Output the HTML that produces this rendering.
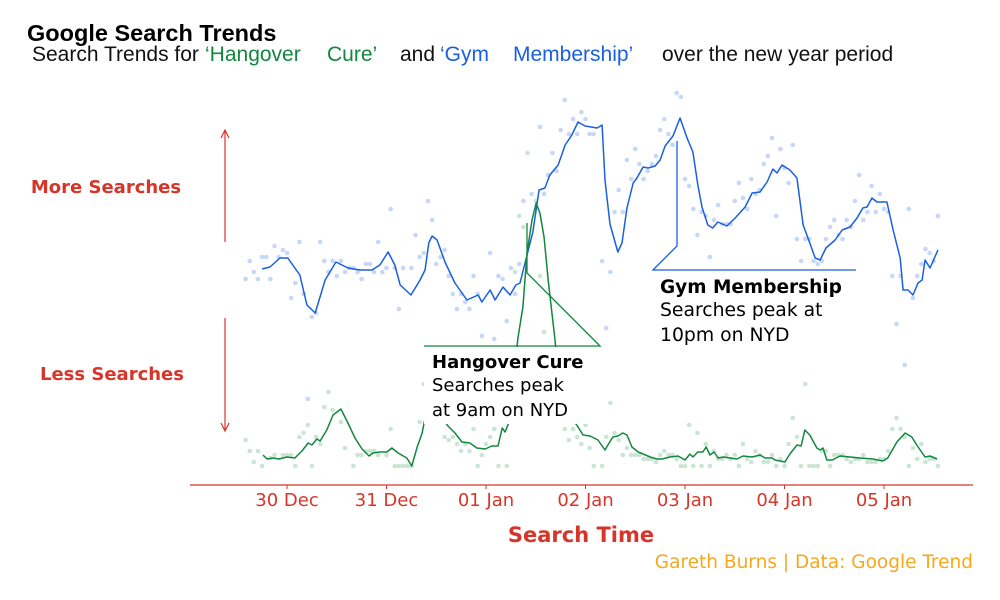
<!DOCTYPE html>
<html><head><meta charset="utf-8">
<style>
body{margin:0;background:#fff;}
#wrap{position:relative;width:1000px;height:600px;overflow:hidden;font-family:"Liberation Sans",sans-serif;}
.t{position:absolute;white-space:nowrap;}
svg text{font-family:"DejaVu Sans","Liberation Sans",sans-serif;}
</style></head>
<body>
<div id="wrap">
<div class="t" style="left:27px;top:20px;font-size:23.5px;font-weight:bold;color:#000;">Google Search Trends</div>
<div style="position:absolute;left:0;top:0;font-size:21px;">
<span class="t" style="left:32px;top:43px;color:#111;">Search Trends for</span>
<span class="t" style="left:205px;top:43px;color:#12873e;">‘Hangover</span>
<span class="t" style="left:327px;top:43px;color:#12873e;">Cure’</span>
<span class="t" style="left:400px;top:43px;color:#111;">and</span>
<span class="t" style="left:440px;top:43px;color:#1a5fe0;">‘Gym</span>
<span class="t" style="left:513px;top:43px;color:#1a5fe0;">Membership’</span>
<span class="t" style="left:662px;top:43px;color:#111;">over the new year period</span>
</div>
<svg id="chart" width="1000" height="600" style="position:absolute;left:0;top:0">
<g id="gDots"></g><g id="gLines"></g>
<g id="gAnno"></g>
<g id="gAxis"></g>
</svg>
</div>
<script>
const blueLineHours=[-6,-4.1,-1.7,0.2,1.9,3.1,4.8,6.8,9.2,11.8,14.7,17.6,20.5,22.4,24.4,26,27.3,29.9,32.1,33.3,34.2,35,36.2,38.1,40.5,43.4,46.1,47,49,50.2,52.1,53.8,55.2,56.2,57.9,59.3,60.8,62.2,63.4,65.4,67.1,68.7,70.2,71.9,74.8,76,76.7,77.9,79.8,80.8,82,83.5,84.4,85.9,87.1,88.8,90,91.2,93.1,94.8,96.5,97.9,99.1,100.1,101.5,102.7,103.9,106.1,108.1,110.5,112.2,114.1,115.8,117.2,118.2,119.4,121.3,123,124.5,126.1,127.4,128.6,130,132.2,133.9,135.8,137.5,138.9,139.9,141.1,142.3,144.7,146.2,147.9,148.6,149.8,151,152.2,153.2,153.9,155.1,157];
const blueLineValues=[54,54.5,56.75,56.75,54.25,52.5,45,43,51.25,55.75,54.25,53.75,53.75,55,58.25,55,50,47.5,51.25,53.75,60.5,62.25,61.25,55.75,50.5,46.25,47.5,45.75,48.75,46.25,49.5,47.5,50,50.5,57.5,63.25,73.75,74.25,77.5,80,85,87.5,90.75,89.75,89.25,90,76.25,65.25,58.25,60.5,69.25,75.5,76.75,79.5,79.25,79.75,81.25,84.75,87.25,91.75,86.75,83.25,75,69.5,65,64.25,65.75,64.75,66.75,69.5,73,73.25,75.75,79,78,80,78.75,76.75,65,60.5,56.75,56.25,59.25,61.25,63.75,64.5,66.75,69.25,69.5,71.75,70.75,70.75,63.75,56.75,48.75,48.75,47.5,50.5,51.25,56.25,54.25,58.75];
const blueDotHours=[-10,-9,-8,-7,-6,-5,-4,-3,-2,-1,0,1,2,3,4,5,6,7,8,9,10,11,12,13,14,15,16,17,18,19,20,21,22,23,24,25,26,27,28,30,31,32,33,34,35,36,37,38,39,40,41,42,43,44,45,46,47,49,50,51,52,53,54,55,56,57,59,61,62,63,64,65,66,67,68,69,70,71,72,73,74,76,77,78,79,80,81,82,83,84,85,86,87,88,89,90,91,92,93,94,95,96,97,98,99,100,101,102,103,104,105,106,107,108,109,110,111,112,113,114,115,116,117,118,119,120,121,122,123,124,125,126,127,128,129,130,131,132,133,134,135,136,137,138,139,140,141,142,143,144,145,146,147,148,149,150,151,152,153,154,155,156,157];
const blueDotValues=[51.5,56,53.25,51.5,57,57,51.5,59.75,57,58.75,58,46.75,50.5,60.75,47.75,21.5,42,43,60.75,56,53.25,56,52.25,56,53.25,54.25,54.25,53.25,51.5,55.25,55.25,53.25,60.75,53.25,54.25,69,54.25,44,54.25,54.25,62.5,57,58,71,66.25,55.25,57,58.75,52.25,47.75,44,47.75,45.75,44,52.25,47.75,37.25,58,36.5,52.25,51.5,41,54.25,47.75,55.25,71,72.75,89.5,72.75,77.5,83,78.5,88.75,96.25,87.75,91.5,87.75,93.25,91.5,87.75,87.75,56,39.25,53.25,68.25,73.75,68.25,81.25,76.5,84,80.25,76.5,78.5,80.25,82.25,88.75,91.5,87.75,85,98,97,76.5,74.75,69,62.5,68.25,67.25,57,66.25,70,65.25,65.25,65.25,71,75.5,71.75,69,76.5,72.75,73.75,80.25,82.25,86.75,67.25,84,79.25,75.5,85,61.5,56,61.5,61.5,56,55.25,56,61.5,64.5,66.25,62.5,61.5,66.25,64.5,71,77.5,66.25,68.25,74.75,68.25,72.75,69,68.25,52.25,40.25,52.25,30,69,46.75,52.25,55.25,59,58,56,67.25];
const greenLineHours=[-5.8,-4.8,-3.4,-1.9,0,1.9,3.6,5.1,6,7.2,8,9.6,11.1,13,14.7,16.4,18.1,19.8,20.7,22.4,24.1,25.3,26.8,28.9,30.1,31.4,32.6,33.1,34.7,36.9,38.6,40.5,42.2,44.1,45.8,47.8,49.4,50.9,51.9,52.6,53.3,54.5,55.7,56.9,57.9,59.1,60.1,61,62,63,63.9,64.6,65.8,67.8,69.9,71.4,73.1,75,76.7,77.4,78.6,79.8,81,82,83.2,84.7,85.9,87.6,89.2,90.4,92.4,94.3,96,97.2,97.9,99.1,100.3,101.1,102,103,104,105.2,106.9,108.5,110,112.2,114.1,115.3,117,117.7,120.1,121.3,123,124,124.9,126.1,127.8,128.6,129.3,130.2,131.5,133.4,135.8,138.2,141.3,143.7,144.9,147.1,149.1,150.7,151.9,153.9,155.1,156.8];
const greenLineValues=[7.5,6.5,6.75,6.5,7,6.75,8.5,10.5,10,11.5,11,13.75,17.5,19,15.5,11.75,9,7.25,8,8.25,8.25,9.25,8,6.75,4.75,9.5,13,15.75,21,18.75,15,13,10.75,10.5,9.25,9,9.75,9.75,14.25,13.25,15,25,36.75,44.5,58,66.25,70.5,68,62,51.25,43,36.75,23.75,17.5,15,12.5,12.25,11.25,8.75,10,12,12.25,13,12.5,9.5,8.25,7.75,7,6.5,6.5,7,7.25,6.25,7.75,7,8.25,8.25,9.5,7.5,8.25,6.75,7,6.75,6.5,7.25,7,7.5,6.75,6.75,6.25,5.75,7.75,10,9.75,13.75,12.5,9.25,8.75,9.25,6.25,6.25,7.25,7,6.75,6.5,6,6.75,10.75,13,12,10,7,7.25,6.5];
const greenDotHours=[-10,-9,-8,-7,-6,-4,-3,-1,0,1,2,3,4,5,6,7,8,9,10,11,13,14,16,17,18,19,20,21,22,24,25,26,27,28,29,30,32,33,38,39,40,41,42,43,44,45,46,47,48,49,50,51,53,55,56,57,58,60,61,62,67,68,69,70,71,72,73,74,76,77,78,79,80,81,82,83,84,85,86,87,88,89,90,91,92,93,94,95,96,97,98,99,100,101,102,103,104,105,106,107,108,109,110,111,112,113,114,115,116,117,118,119,120,121,122,123,124,125,126,127,128,129,130,131,132,133,134,135,136,137,138,139,140,141,142,143,144,145,146,147,148,149,150,151,152,153,154,155,156,157];
const greenDotValues=[11.25,8.5,5.75,8.5,4.75,6.75,7.5,7.5,7.5,7.5,4.75,12,13,15,4.75,12,10.25,19.5,23.25,18.75,15.75,9.25,4.75,7.5,7.5,8.5,8.5,8.5,7.5,7.5,14,4.75,4.75,4.75,4.75,4.75,15.75,25.25,12,11.25,12,10.25,8.5,10.25,8.5,14,4.75,7.5,10.25,12,14,4.75,4.75,53.25,67.25,64.5,83,71,52.25,38.25,14,11.25,14,12,10.25,15,9.25,4.75,4.75,12,20.5,13,11.25,7.5,9.25,7.5,7.5,7.5,6.5,6.5,6.5,5.75,7.5,8.5,7.5,7.5,6.5,4.75,4.75,15,4.75,13,4.75,10.25,4.75,8.5,6.5,6.5,7.5,6.5,7.5,4.75,10.25,6.5,5.75,8.5,7.5,5.75,5.75,7.5,4.75,6.5,4.75,10.25,16.75,12,4.75,25.25,4.75,4.75,4.75,8.5,8.5,4.75,7.5,7.5,7.5,6.5,5.75,6.5,6.5,7.5,5.75,5.75,5.75,6.5,6.5,8.5,14,16.75,14,12,4.75,9.25,6.5,10.25,5.75,6.5,6.5,4.75];
const tickLabels=["30 Dec","31 Dec","01 Jan","02 Jan","03 Jan","04 Jan","05 Jan"];
const tickHours=[0,24,48,72,96,120,144];

const NS="http://www.w3.org/2000/svg";
const x=h=>287+h*99.5/24;
const y=v=>485-v*4;
const RED="#d8352a",BLUE="#1a5fe0",GREEN="#12873e";
function mk(tag,parent,attrs){const e=document.createElementNS(NS,tag);for(const k in attrs)e.setAttribute(k,attrs[k]);parent.appendChild(e);return e;}
const gD=document.getElementById('gDots'),gL=document.getElementById('gLines'),gA=document.getElementById('gAnno'),gX=document.getElementById('gAxis');

blueDotHours.forEach((h,i)=>{const c=mk('circle',gD,{cx:x(h),cy:y(blueDotValues[i]),r:2.3,fill:BLUE,'fill-opacity':0.25});

});
greenDotHours.forEach((h,i)=>{const c=mk('circle',gD,{cx:x(h),cy:y(greenDotValues[i]),r:2.3,fill:GREEN,'fill-opacity':0.22});

});

const bl=mk('polyline',gL,{points:blueLineHours.map((h,i)=>x(h)+','+y(blueLineValues[i])).join(' '),fill:'none',stroke:BLUE,'stroke-width':1.5,'stroke-linejoin':'round'});


const gl=mk('polyline',gL,{points:greenLineHours.map((h,i)=>x(h)+','+y(greenLineValues[i])).join(' '),fill:'none',stroke:GREEN,'stroke-width':1.5,'stroke-linejoin':'round'});



const hb=mk('rect',gA,{x:424,y:347,width:176,height:77,fill:'#fff'});


const ha=mk('polyline',gA,{points:'527,223 527,273 600,346 424,346',fill:'none',stroke:GREEN,'stroke-width':1.3});


const ga=mk('polyline',gA,{points:'677,141 677,246 653,270 856,270',fill:'none',stroke:BLUE,'stroke-width':1.3});


function txt(parent,str,px,py,attrs,name){const t=mk('text',parent,Object.assign({x:px,y:py},attrs));t.textContent=str;

return t;}
txt(gA,'Hangover Cure',432,368,{'font-size':18,'font-weight':'bold',fill:'#000'},'hangover-annotation-title');
txt(gA,'Searches peak',432,391,{'font-size':18,fill:'#000'},'hangover-annotation-text');
txt(gA,'at 9am on NYD',432,416,{'font-size':18,fill:'#000'},'hangover-annotation-text');
txt(gA,'Gym Membership',660,293,{'font-size':18.5,'font-weight':'bold',fill:'#000'},'gym-annotation-title');
txt(gA,'Searches peak at',660,316,{'font-size':18.8,fill:'#000'},'gym-annotation-text');
txt(gA,'10pm on NYD',660,341,{'font-size':18.8,fill:'#000'},'gym-annotation-text');

const ax=mk('line',gX,{x1:190,x2:973,y1:485,y2:485,stroke:RED,'stroke-width':1.3});


tickHours.forEach((h,i)=>{const tk=mk('line',gX,{x1:x(h),x2:x(h),y1:485,y2:489,stroke:RED,'stroke-width':1});


txt(gX,tickLabels[i],x(h),506,{'font-size':18,fill:RED,'text-anchor':'middle'},'x-tick-label');});
txt(gX,'Search Time',581,542,{'font-size':21,'font-weight':'bold',fill:RED,'text-anchor':'middle'},'x-axis-title');
txt(gX,'Gareth Burns | Data: Google Trend',973,568,{'font-size':18.5,fill:'#f5a81c','text-anchor':'end'},'caption');
txt(gX,'More Searches',106,193,{'font-size':18,'font-weight':'bold',fill:RED,'text-anchor':'middle'},'more-searches-label');
txt(gX,'Less Searches',112,380,{'font-size':18,'font-weight':'bold',fill:RED,'text-anchor':'middle'},'less-searches-label');
const a1=mk('path',gX,{d:'M225,242 V131 M221,138 L225,130 L229,138',fill:'none',stroke:RED,'stroke-width':1.2});


const a2=mk('path',gX,{d:'M225,318 V430 M221,423 L225,431 L229,423',fill:'none',stroke:RED,'stroke-width':1.2});


</script>
</body></html>
